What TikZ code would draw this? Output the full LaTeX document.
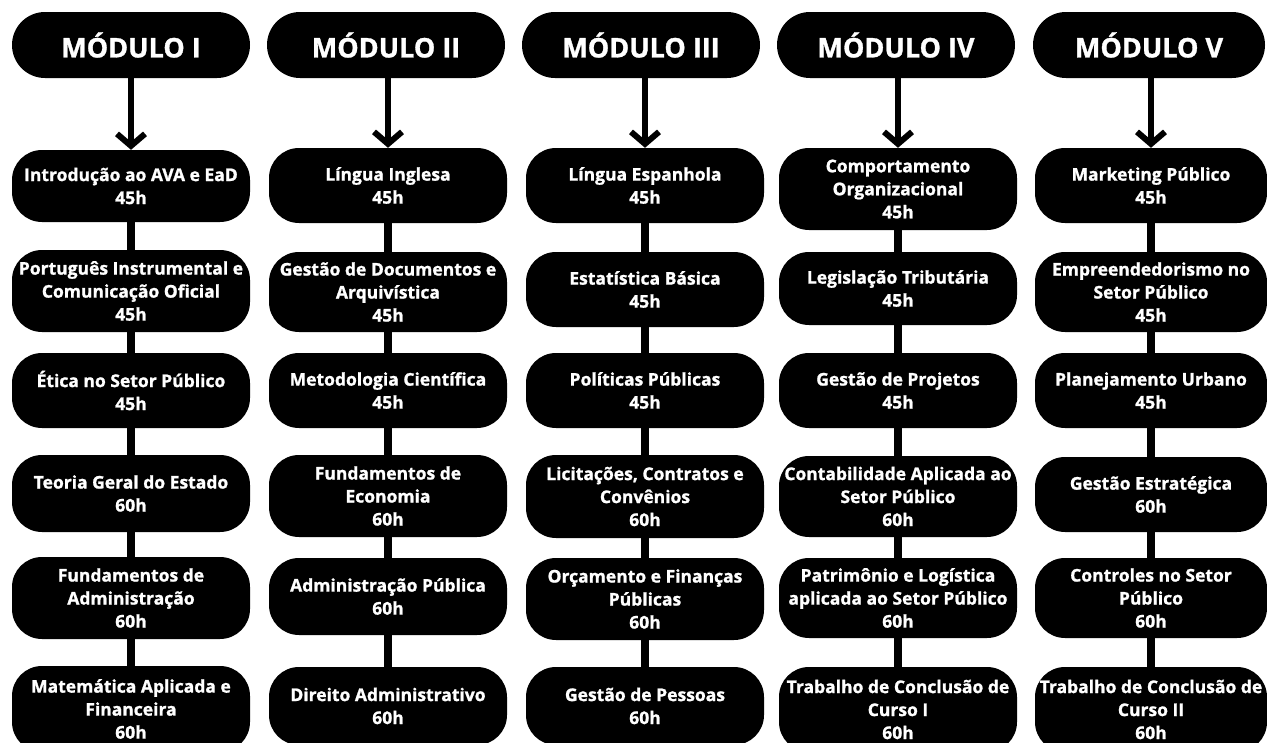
\documentclass[tikz,border=0pt]{standalone}
\usepackage{fontspec}
\setmainfont{Open Sans}[BoldFeatures={FakeBold=1.2}]
\usetikzlibrary{arrows.meta}
\tikzset{
  hdr/.style={fill=black, text=white, rounded corners=33pt, minimum width=238pt, minimum height=66pt,
    inner sep=0pt, font=\bfseries\fontsize{27}{30}\selectfont},
  course/.style={fill=black, text=white, rounded corners=30pt, minimum width=238pt,
    inner sep=0pt, align=center, font=\bfseries\fontsize{17.5}{23}\selectfont},
  link/.style={line width=8pt, black},
  harrow/.style={line width=6pt, black, -{Straight Barb[length=12pt,width=28pt,line width=6pt]}}
}
% \cbox{name}{x}{ytop}{ybot}{text}
\newcommand{\cbox}[5]{\node[course, minimum height={(#4-#3)*1pt}] (#1) at (#2,{(#3+#4)/2}) {#5};}
\begin{document}
\begin{tikzpicture}[x=1pt,y=-1pt]
\useasboundingbox (0,0) rectangle (1267,742);
\clip (0,0) rectangle (1267,742);
\fill[white] (0,0) rectangle (1267,742);

% headers
\node[hdr] (h1) at (131,45) {MÓDULO I};
\node[hdr] (h2) at (386,45) {MÓDULO II};
\node[hdr] (h3) at (641,45) {MÓDULO III};
\node[hdr] (h4) at (896,45) {MÓDULO IV};
\node[hdr, minimum width=232pt] (h5) at (1149,45) {MÓDULO V};

% column 1
\cbox{a1}{131}{150}{222}{Introdução ao AVA e EaD\\45h}
\cbox{a2}{131}{250}{332}{Português Instrumental e\\Comunicação Oficial\\45h}
\cbox{a3}{131}{353}{428}{Ética no Setor Público\\45h}
\cbox{a4}{131}{455}{532}{Teoria Geral do Estado\\60h}
\cbox{a5}{131}{557}{639}{Fundamentos de\\Administração\\60h}
\cbox{a6}{131}{666}{752}{Matemática Aplicada e\\Financeira\\60h}

% column 2
\cbox{b1}{388}{148}{223}{Língua Inglesa\\45h}
\cbox{b2}{388}{252}{332}{Gestão de Documentos e\\Arquivística\\45h}
\cbox{b3}{388}{353}{428}{Metodologia Científica\\45h}
\cbox{b4}{388}{455}{537}{Fundamentos de\\Economia\\60h}
\cbox{b5}{388}{558}{635}{Administração Pública\\60h}
\cbox{b6}{388}{667}{745}{Direito Administrativo\\60h}

% column 3
\cbox{c1}{645}{148}{223}{Língua Espanhola\\45h}
\cbox{c2}{645}{252}{327}{Estatística Básica\\45h}
\cbox{c3}{645}{353}{428}{Políticas Públicas\\45h}
\cbox{c4}{645}{455}{538}{Licitações, Contratos e\\Convênios\\60h}
\cbox{c5}{645}{558}{640}{Orçamento e Finanças\\Públicas\\60h}
\cbox{c6}{645}{667}{745}{Gestão de Pessoas\\60h}

% column 4
\cbox{d1}{898}{148}{230}{Comportamento\\Organizacional\\45h}
\cbox{d2}{898}{252}{325}{Legislação Tributária\\45h}
\cbox{d3}{898}{353}{428}{Gestão de Projetos\\45h}
\cbox{d4}{898}{456}{537}{Contabilidade Aplicada ao\\Setor Público\\60h}
\cbox{d5}{898}{558}{638}{Patrimônio e Logística\\aplicada ao Setor Público\\60h}
\cbox{d6}{898}{667}{752}{Trabalho de Conclusão de\\Curso I\\60h}

% column 5
\tikzset{course/.append style={minimum width=232pt}}
\cbox{e1}{1151}{148}{223}{Marketing Público\\45h}
\cbox{e2}{1151}{252}{332}{Empreendedorismo no\\Setor Público\\45h}
\cbox{e3}{1151}{353}{428}{Planejamento Urbano\\45h}
\cbox{e4}{1151}{457}{532}{Gestão Estratégica\\60h}
\cbox{e5}{1151}{558}{638}{Controles no Setor\\Público\\60h}
\cbox{e6}{1151}{667}{752}{Trabalho de Conclusão de\\Curso II\\60h}

% arrows from headers
\foreach \h/\b in {h1/a1,h2/b1,h3/c1,h4/d1,h5/e1}
  \draw[harrow] (\b.north |- \h.south) -- (\b.north);

% links
\foreach \c in {a,b,c,d,e}{
  \draw[link] (\c1.south) -- (\c2.north);
  \draw[link] (\c2.south) -- (\c3.north);
  \draw[link] (\c3.south) -- (\c4.north);
  \draw[link] (\c4.south) -- (\c5.north);
  \draw[link] (\c5.south) -- (\c6.north);
}
\end{tikzpicture}
\end{document}
